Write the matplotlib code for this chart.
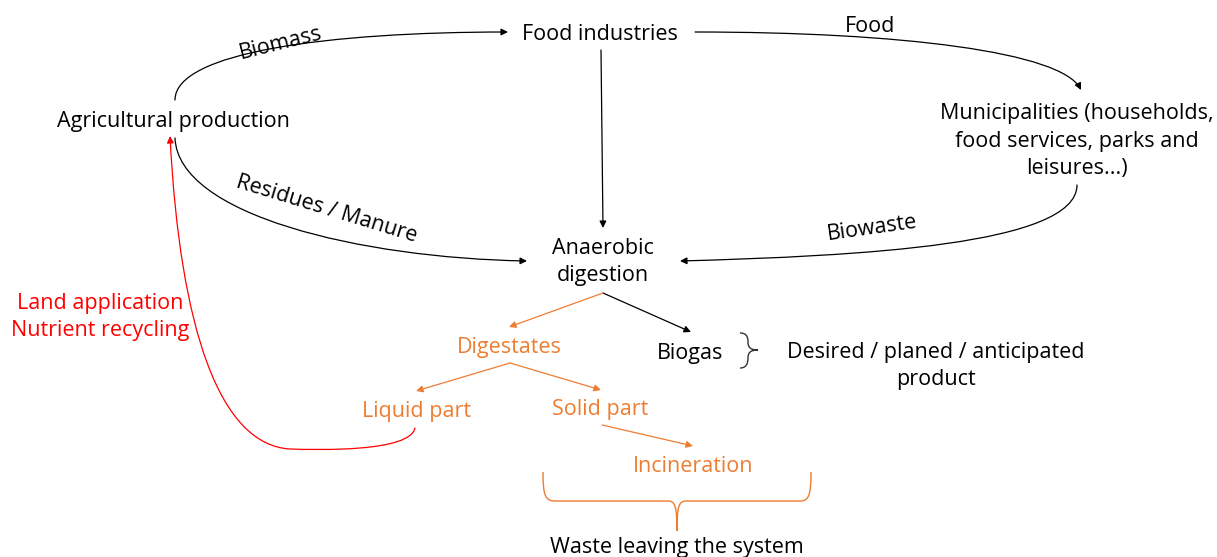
import matplotlib
matplotlib.use("Agg")
import matplotlib.pyplot as plt
from matplotlib.path import Path
from matplotlib.patches import FancyArrowPatch, PathPatch

plt.rcParams['font.family'] = ['Open Sans', 'DejaVu Sans']

ORANGE = '#ED7D31'
RED = '#FF0000'
BLACK = '#000000'

# node labels
black_nodes = ['Food industries', 'Agricultural production',
               'Municipalities (households,\nfood services, parks and\nleisures...)',
               'Anaerobic\ndigestion', 'Biogas',
               'Desired / planed / anticipated\nproduct', 'Waste leaving the system']
orange_nodes = ['Digestates', 'Liquid part', 'Solid part', 'Incineration']
red_nodes = ['Land application\nNutrient recycling']
flow_labels = ['Biomass', 'Food', 'Residues / Manure', 'Biowaste']

# layout (pixel space, y downwards)
node_pos = {
    'Food industries': (600, 34),
    'Agricultural production': (173, 122),
    'Municipalities (households,\nfood services, parks and\nleisures...)': (1077, 141),
    'Anaerobic\ndigestion': (603, 262),
    'Biogas': (690, 354),
    'Desired / planed / anticipated\nproduct': (936, 366),
    'Waste leaving the system': (677, 548),
    'Digestates': (509, 348),
    'Liquid part': (416, 411),
    'Solid part': (600, 409),
    'Incineration': (693, 466),
    'Land application\nNutrient recycling': (100, 317),
}
label_pos = {'Biomass': (281, 43, 14), 'Food': (870, 26, 0),
             'Residues / Manure': (327, 209, -17), 'Biowaste': (872, 228, 8)}

fig = plt.figure(figsize=(12.17, 5.57), dpi=100)
ax = fig.add_axes([0, 0, 1, 1])
ax.set_xlim(0, 1217)
ax.set_ylim(557, 0)
ax.axis('off')

FS = 15.5
LS = 1.4
for name in black_nodes:
    x, y = node_pos[name]
    ax.text(x, y, name, ha='center', va='center', fontsize=FS, color=BLACK,
            linespacing=LS)
for name in orange_nodes:
    x, y = node_pos[name]
    ax.text(x, y, name, ha='center', va='center', fontsize=FS, color=ORANGE)
for name in red_nodes:
    x, y = node_pos[name]
    ax.text(x, y, name, ha='center', va='center', fontsize=FS, color=RED,
            linespacing=LS)
for name in flow_labels:
    x, y, rot = label_pos[name]
    ax.text(x, y, name, ha='center', va='center', fontsize=FS, color=BLACK,
            rotation=rot, rotation_mode='anchor')


def curve_arrow(pts, color, lw=0.9, head=True):
    codes = [Path.MOVETO] + [Path.CURVE4] * (len(pts) - 1)
    p = Path(pts, codes)
    style = '-|>' if head else '-'
    a = FancyArrowPatch(path=p, arrowstyle=style, mutation_scale=10,
                        color=color, lw=lw, shrinkA=0, shrinkB=0)
    ax.add_patch(a)


def line_arrow(p0, p1, color, lw=0.9):
    a = FancyArrowPatch(p0, p1, arrowstyle='-|>', mutation_scale=10,
                        color=color, lw=lw, shrinkA=0, shrinkB=0)
    ax.add_patch(a)


# black flows
curve_arrow([(175, 100), (175, 52), (330, 32), (508, 32)], BLACK)
curve_arrow([(695, 32), (900, 32), (1062, 52), (1081, 90)], BLACK)
curve_arrow([(175, 138), (178, 215), (360, 258), (527, 261)], BLACK)
curve_arrow([(1077, 185), (1077, 245), (860, 256), (680, 261)], BLACK)
line_arrow((601, 50), (603, 228), BLACK)
line_arrow((603, 293), (691, 332), BLACK)

# orange flows
line_arrow((603, 293), (509, 327), ORANGE)
line_arrow((510, 363), (416, 391), ORANGE)
line_arrow((510, 363), (601, 390), ORANGE)
line_arrow((602, 425), (693, 446), ORANGE)

# red recycling loop
curve_arrow([(415, 428), (410, 452), (320, 450), (290, 449),
             (220, 445), (180, 330), (170, 136)], RED)

# brace next to Biogas
bv = [(740, 333), (746, 333), (748, 336), (748, 342),
      (748, 347), (750, 350), (758, 350),
      (750, 350), (748, 353), (748, 358),
      (748, 364), (746, 368), (740, 368)]
bc = [Path.MOVETO] + [Path.CURVE4] * 12
ax.add_patch(PathPatch(Path(bv, bc), fill=False, edgecolor='#333333', lw=1.0))

# brace under the waste streams
wv = [(543, 472), (543, 495), (545, 501), (555, 501),
      (668, 501),
      (675, 501), (677, 506), (677, 531),
      (677, 506), (679, 501), (686, 501),
      (800, 501),
      (809, 501), (811, 495), (811, 472)]
wc = [Path.MOVETO, Path.CURVE4, Path.CURVE4, Path.CURVE4,
      Path.LINETO,
      Path.CURVE4, Path.CURVE4, Path.CURVE4,
      Path.CURVE4, Path.CURVE4, Path.CURVE4,
      Path.LINETO,
      Path.CURVE4, Path.CURVE4, Path.CURVE4]
ax.add_patch(PathPatch(Path(wv, wc), fill=False, edgecolor=ORANGE, lw=1.0))

fig.savefig('out.png', dpi=100)
